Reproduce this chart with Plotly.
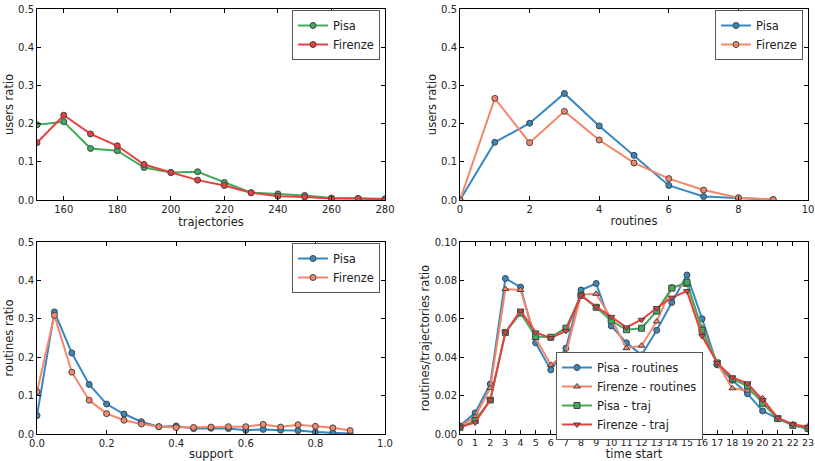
import plotly.graph_objects as go

# ---- data ----
traj_x = [150, 160, 170, 180, 190, 200, 210, 220, 230, 240, 250, 260, 270, 280]
traj_pisa = [0.197, 0.205, 0.135, 0.129, 0.085, 0.072, 0.074, 0.046, 0.019, 0.016, 0.012, 0.005, 0.004, 0.003]
traj_firenze = [0.150, 0.222, 0.173, 0.142, 0.093, 0.072, 0.052, 0.038, 0.019, 0.010, 0.008, 0.004, 0.004, 0.001]

rout_x = [0, 1, 2, 3, 4, 5, 6, 7, 8, 9]
rout_pisa = [0.0, 0.151, 0.201, 0.279, 0.194, 0.117, 0.038, 0.009, 0.005, 0.001]
rout_firenze = [0.0, 0.266, 0.150, 0.232, 0.157, 0.097, 0.056, 0.026, 0.006, 0.001]

supp_x = [0.0, 0.05, 0.1, 0.15, 0.2, 0.25, 0.3, 0.35, 0.4, 0.45, 0.5, 0.55, 0.6, 0.65, 0.7, 0.75, 0.8, 0.85, 0.9]
supp_pisa = [0.048, 0.318, 0.211, 0.129, 0.078, 0.052, 0.032, 0.019, 0.021, 0.014, 0.015, 0.014, 0.010, 0.012, 0.010, 0.009, 0.005, 0.003, 0.001]
supp_firenze = [0.110, 0.309, 0.161, 0.088, 0.053, 0.036, 0.026, 0.019, 0.017, 0.017, 0.018, 0.019, 0.019, 0.025, 0.018, 0.024, 0.020, 0.016, 0.009]

hours = list(range(24))
pisa_routines = [0.0042, 0.011, 0.026, 0.081, 0.0765, 0.0475, 0.0334, 0.0447, 0.075, 0.0784, 0.0563, 0.0475,
                 0.0412, 0.054, 0.0685, 0.0828, 0.060, 0.036, 0.028, 0.021, 0.012, 0.008, 0.0047, 0.0026]
firenze_routines = [0.004, 0.009, 0.024, 0.0755, 0.075, 0.050, 0.036, 0.042, 0.0725, 0.073, 0.060, 0.0447,
                    0.046, 0.0586, 0.0765, 0.0777, 0.055, 0.037, 0.0238, 0.0226, 0.0186, 0.008, 0.005, 0.004]
pisa_traj = [0.0035, 0.007, 0.0177, 0.0529, 0.063, 0.0508, 0.0504, 0.0551, 0.0722, 0.066, 0.059, 0.0543,
             0.0551, 0.064, 0.076, 0.079, 0.054, 0.037, 0.0287, 0.025, 0.016, 0.008, 0.0045, 0.003]
firenze_traj = [0.0035, 0.006, 0.0177, 0.0529, 0.0643, 0.0529, 0.050, 0.0537, 0.0722, 0.0663, 0.061, 0.0555,
                0.0595, 0.0656, 0.071, 0.0744, 0.051, 0.037, 0.0294, 0.0264, 0.0177, 0.0085, 0.005, 0.0035]

GREEN = "#41ab5d"
RED = "#e8403f"
BLUE = "#3787c0"
SALMON = "#f4866a"
EDGE = "#444444"
FONT = "DejaVu Sans"

fig = go.Figure()


def add(x, y, name, color, xa, ya, legend, symbol="circle"):
    fig.add_trace(go.Scatter(
        x=x, y=y, name=name, mode="lines+markers",
        line=dict(color=color, width=2),
        marker=dict(symbol=symbol, size=6, color=color, line=dict(color=EDGE, width=1)),
        xaxis=xa, yaxis=ya, legend=legend))


add(traj_x, traj_pisa, "Pisa", GREEN, "x", "y", "legend")
add(traj_x, traj_firenze, "Firenze", RED, "x", "y", "legend")
add(rout_x, rout_pisa, "Pisa", BLUE, "x2", "y2", "legend2")
add(rout_x, rout_firenze, "Firenze", SALMON, "x2", "y2", "legend2")
add(supp_x, supp_pisa, "Pisa", BLUE, "x3", "y3", "legend3")
add(supp_x, supp_firenze, "Firenze", SALMON, "x3", "y3", "legend3")
add(hours, pisa_routines, "Pisa - routines", BLUE, "x4", "y4", "legend4", "circle")
add(hours, firenze_routines, "Firenze - routines", SALMON, "x4", "y4", "legend4", "triangle-up")
add(hours, pisa_traj, "Pisa - traj", GREEN, "x4", "y4", "legend4", "square")
add(hours, firenze_traj, "Firenze - traj", RED, "x4", "y4", "legend4", "triangle-down")

W, H = 815, 461
xl = [37 / W, 385 / W]
xr = [460 / W, 808 / W]
yt = [1 - 200 / H, 1 - 9 / H]
yb = [1 - 434 / H, 1 - 242 / H]


def axis(size=10):
    return dict(showline=True, linecolor="black", linewidth=1, mirror="allticks",
                ticks="inside", ticklen=4, tickcolor="black", showgrid=False, zeroline=False,
                automargin=False, tickangle=0,
                tickfont=dict(size=size, color="#222"), title_font=dict(size=11.5, color="#222"))


legend_common = dict(bgcolor="white", bordercolor="#555", borderwidth=1,
                     font=dict(size=11.5, color="#222"), xanchor="right", yanchor="top",
                     tracegroupgap=0, itemwidth=30)

fig.update_layout(
    width=W, height=H, margin=dict(l=0, r=0, t=0, b=0),
    paper_bgcolor="white", plot_bgcolor="white",
    font=dict(family=FONT, color="#222"),
    xaxis=dict(domain=xl, anchor="y", range=[150, 280], tickvals=[160, 180, 200, 220, 240, 260, 280],
               title=dict(text="trajectories", standoff=2), **axis()),
    yaxis=dict(domain=yt, anchor="x", range=[0, 0.5], dtick=0.1, tickformat=".1f",
               title=dict(text="users ratio", standoff=2), **axis()),
    xaxis2=dict(domain=xr, anchor="y2", range=[0, 10], dtick=2,
                title=dict(text="routines", standoff=2), **axis()),
    yaxis2=dict(domain=yt, anchor="x2", range=[0, 0.5], dtick=0.1, tickformat=".1f",
                title=dict(text="users ratio", standoff=2), **axis()),
    xaxis3=dict(domain=xl, anchor="y3", range=[0, 1], dtick=0.2, tickformat=".1f",
                title=dict(text="support", standoff=2), **axis()),
    yaxis3=dict(domain=yb, anchor="x3", range=[0, 0.5], dtick=0.1, tickformat=".1f",
                title=dict(text="routines ratio", standoff=2), **axis()),
    xaxis4=dict(domain=xr, anchor="y4", range=[0, 23], dtick=1,
                title=dict(text="time start", standoff=2), **axis(9.5)),
    yaxis4=dict(domain=yb, anchor="x4", range=[0, 0.10], dtick=0.02, tickformat=".2f",
                title=dict(text="routines/trajectories ratio", standoff=2), **axis()),
    legend=dict(x=380 / W, y=1 - 10 / H, **legend_common),
    legend2=dict(x=803 / W, y=1 - 10 / H, **legend_common),
    legend3=dict(x=380 / W, y=1 - 243 / H, **legend_common),
    legend4=dict(x=703 / W, y=1 - 352 / H, **legend_common),
)

fig.write_html("out.html", config={"displayModeBar": False},
               post_script="document.body.style.margin='0';document.body.style.padding='0';")
